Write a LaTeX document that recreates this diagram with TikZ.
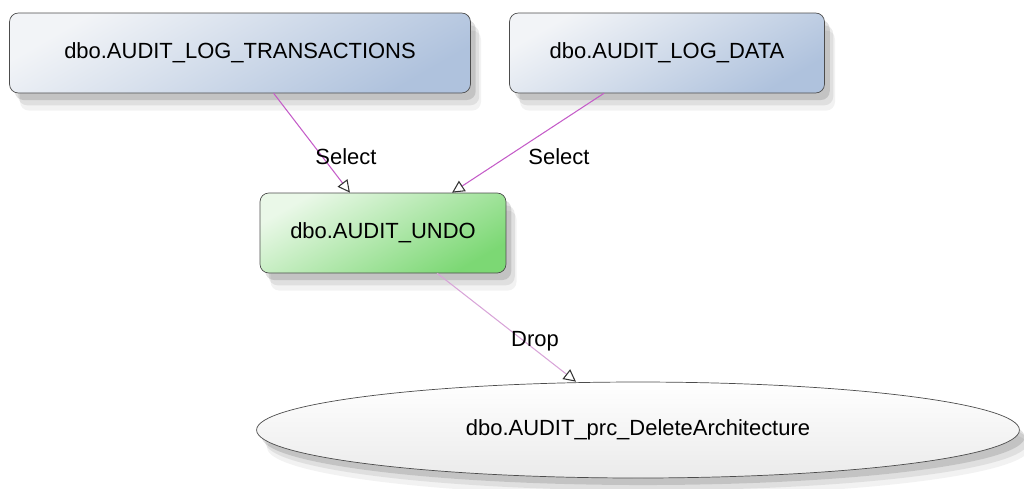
\documentclass[tikz,border=0pt]{standalone}
\usepackage{fontspec}
\setmainfont{Liberation Sans}
\usetikzlibrary{shapes.geometric, shadows, arrows.meta, calc}
\definecolor{tblA}{HTML}{F2F4F7}
\definecolor{tblB}{HTML}{AFC2DD}
\definecolor{viewA}{HTML}{EAF8E8}
\definecolor{viewB}{HTML}{7CD874}
\definecolor{depC}{HTML}{C45CC8}
\definecolor{dropC}{HTML}{D8A4D8}

\begin{document}
\begin{tikzpicture}[x=0.02cm, y=-0.02cm, font=\fontsize{12.5}{15}\selectfont, line join=round, line cap=round,
		>={Triangle[open, length=7pt, width=7pt, color=black!80]},
		shade/.style={drop shadow={shadow xshift=3pt, shadow yshift=-4pt, opacity=.12, fill=black},
			drop shadow={shadow xshift=5pt, shadow yshift=-7pt, opacity=.08, fill=black},
			drop shadow={shadow xshift=6pt, shadow yshift=-10pt, opacity=.05, fill=black}},
		tbl/.style={draw=black!70, rounded corners=5pt, minimum height=1.6cm, shade,
			top color=tblA, bottom color=tblB, shading angle=30},
		view/.style={draw=black!70, rounded corners=5pt, minimum height=1.6cm, shade,
			top color=viewA, bottom color=viewB, shading angle=30},
		proc/.style={draw=black!70, ellipse, shade, top color=white, bottom color=black!8},
		dep/.style={->, draw=depC, semithick},
		lbl/.style={inner sep=1pt}]
	\useasboundingbox (0,0) rectangle (1024,488);
	% objects
	\node[tbl, minimum width=9.22cm] (T) at (240,53) {dbo.AUDIT\_LOG\_TRANSACTIONS};
	\node[tbl, minimum width=6.3cm] (D) at (667,53) {dbo.AUDIT\_LOG\_DATA};
	\node[view, minimum width=4.92cm] (U) at (383,233) {dbo.AUDIT\_UNDO};
	\node[proc, minimum width=15.26cm, minimum height=1.92cm] (E) at (638,430) {dbo.AUDIT\_prc\_DeleteArchitecture};
	% dependencies
	\draw[dep] ($(T.south west)!0.573!(T.south east)$) -- ($(U.north west)!0.366!(U.north east)$);
	\draw[dep] ($(D.south west)!0.30!(D.south east)$) -- ($(U.north west)!0.78!(U.north east)$);
	\draw[dep, draw=dropC] ($(U.south west)!0.72!(U.south east)$) -- ($(E.north)+(-62,0)$);
	\foreach \t/\p in {Select/{346,157}, Select/{559,157}, Drop/{535,341}} \node[lbl] at (\p) {\t};
\end{tikzpicture}
\end{document}
